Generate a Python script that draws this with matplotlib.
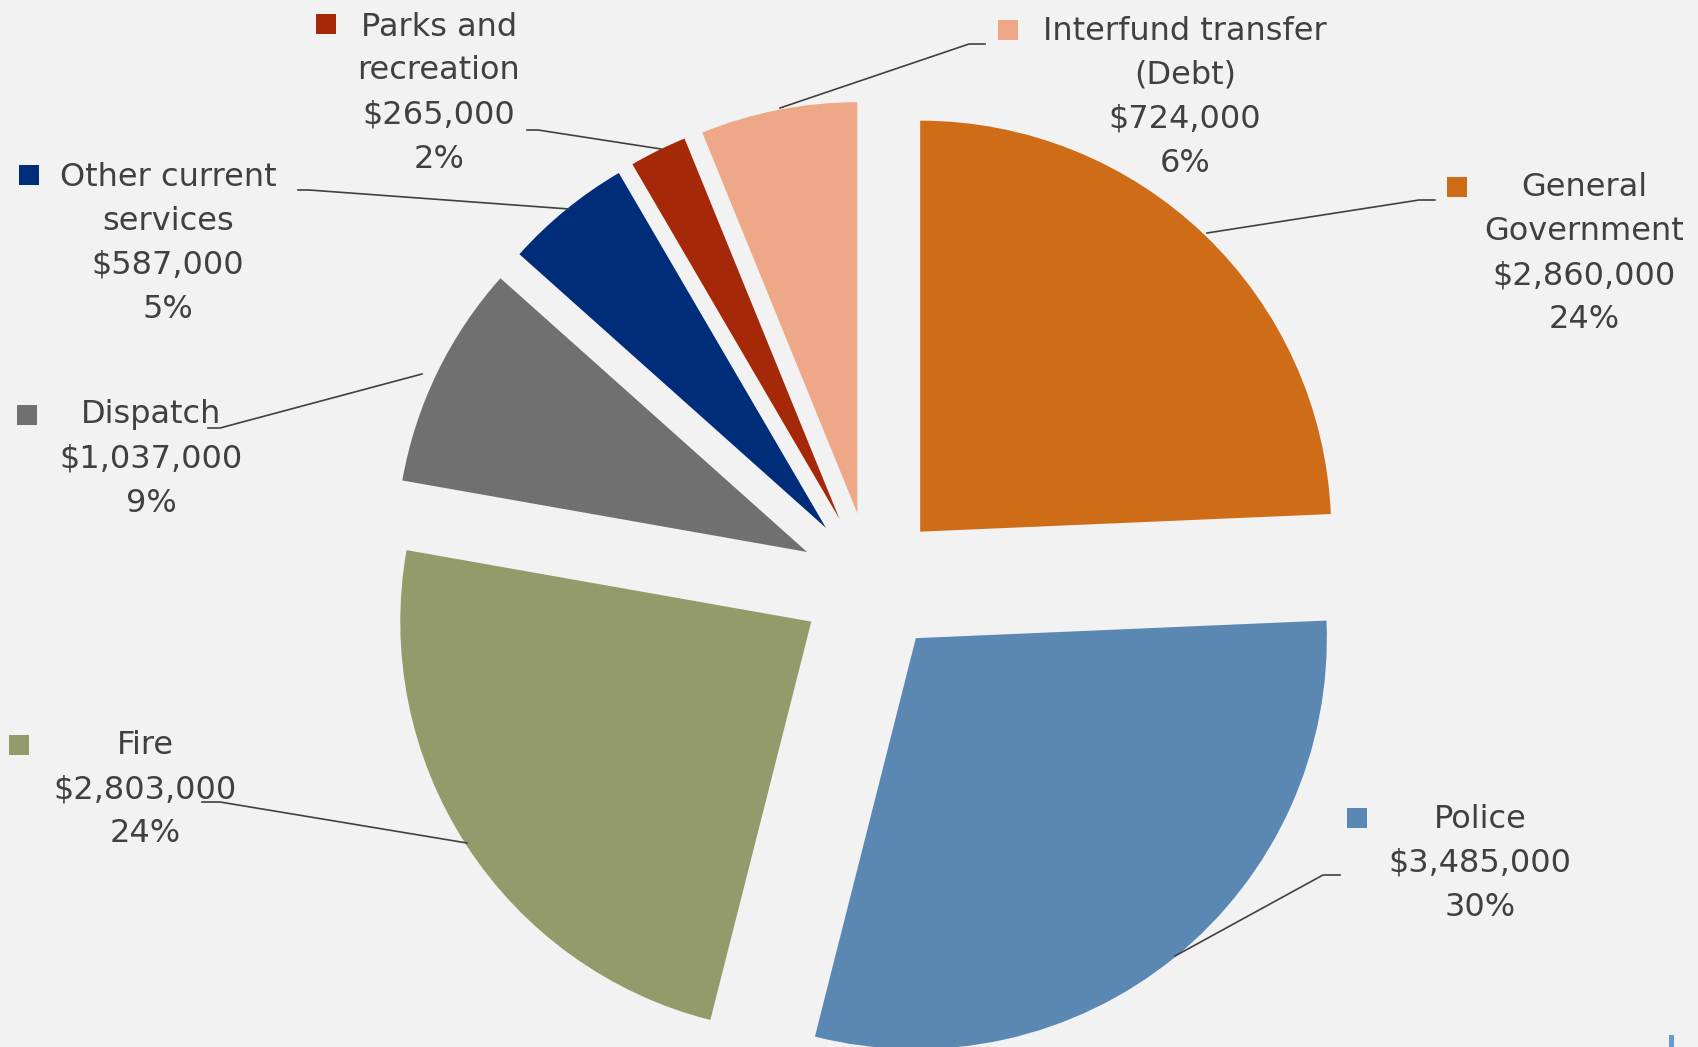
import matplotlib
matplotlib.use("Agg")
import matplotlib.pyplot as plt
from matplotlib import font_manager
from matplotlib.patches import Rectangle
from matplotlib.lines import Line2D

# budget by department, clockwise from 12 o'clock
categories = ["General\nGovernment", "Police", "Fire", "Dispatch",
              "Other current\nservices", "Parks and\nrecreation",
              "Interfund transfer\n(Debt)"]
values = [2860000, 3485000, 2803000, 1037000, 587000, 265000, 724000]
colors = ["#CF6C17", "#5A88B3", "#939B6A", "#707070", "#002D7A", "#A52808", "#EEA787"]

W, H = 1698, 1047
BG = "#F2F2F2"
TXT = "#404040"

names = {f.name for f in font_manager.fontManager.ttflist}
if "Liberation Sans Narrow" in names:
    family, fs = "Liberation Sans Narrow", 29
else:
    family, fs = "DejaVu Sans", 23

fig = plt.figure(figsize=(W / 100, H / 100), dpi=100, facecolor=BG)
ax = fig.add_axes([0, 0, 1, 1])
ax.set_facecolor(BG)

# pie centre at (871, 583) px, radius 411 px
cx, cy, R = 871, 583, 411
ax.pie(values, colors=colors, startangle=90, counterclock=False,
       explode=[0.173] * len(values), wedgeprops=dict(linewidth=0))
ax.set_xlim(-cx / R, (W - cx) / R)
ax.set_ylim(-(H - cy) / R, cy / R)
ax.axis("off")


def fp(x, y):
    # pixel (from top-left) -> figure fraction
    return x / W, 1 - y / H


# label layout: text centre x, first line y, key square centre, leader line points
text_pos = [(1584, 188), (1480, 819), (145, 746), (151, 415), (168, 177), (439, 27), (1185, 31)]
key_pos = [(1457, 187), (1357, 818), (19, 745), (27, 415), (29, 175), (326, 24), (1008, 30)]
leaders = [
    [(1207, 233), (1419, 200), (1435, 200)],
    [(1175, 956), (1323, 875), (1340, 875)],
    [(467, 843), (220, 802), (202, 802)],
    [(422, 374), (220, 428), (208, 428)],
    [(569, 209), (309, 190), (298, 190)],
    [(661, 149), (538, 130), (527, 130)],
    [(780, 108), (969, 44), (985, 44)],
]

total = sum(values)
step = 44
for name, val, col, (tx, ty), (kx, ky), pts in zip(categories, values, colors,
                                                    text_pos, key_pos, leaders):
    xs, ys = zip(*[fp(*p) for p in pts])
    fig.add_artist(Line2D(xs, ys, color=TXT, lw=1.2, transform=fig.transFigure))
    lines = name.split("\n") + [f"${val:,}", f"{val / total * 100:.0f}%"]
    for i, line in enumerate(lines):
        fig.text(*fp(tx, ty + i * step), line, ha="center", va="center",
                 fontsize=fs, family=family, color=TXT)
    fig.add_artist(Rectangle(fp(kx - 10, ky + 10), 20 / W, 20 / H, color=col,
                             transform=fig.transFigure, lw=0))

# small clipped marker in the bottom-right corner
fig.add_artist(Rectangle(fp(1669, 1047), 5 / W, 12 / H, color="#6A9BD0",
                         transform=fig.transFigure, lw=0))

fig.savefig("out.png", dpi=100, facecolor=BG)
